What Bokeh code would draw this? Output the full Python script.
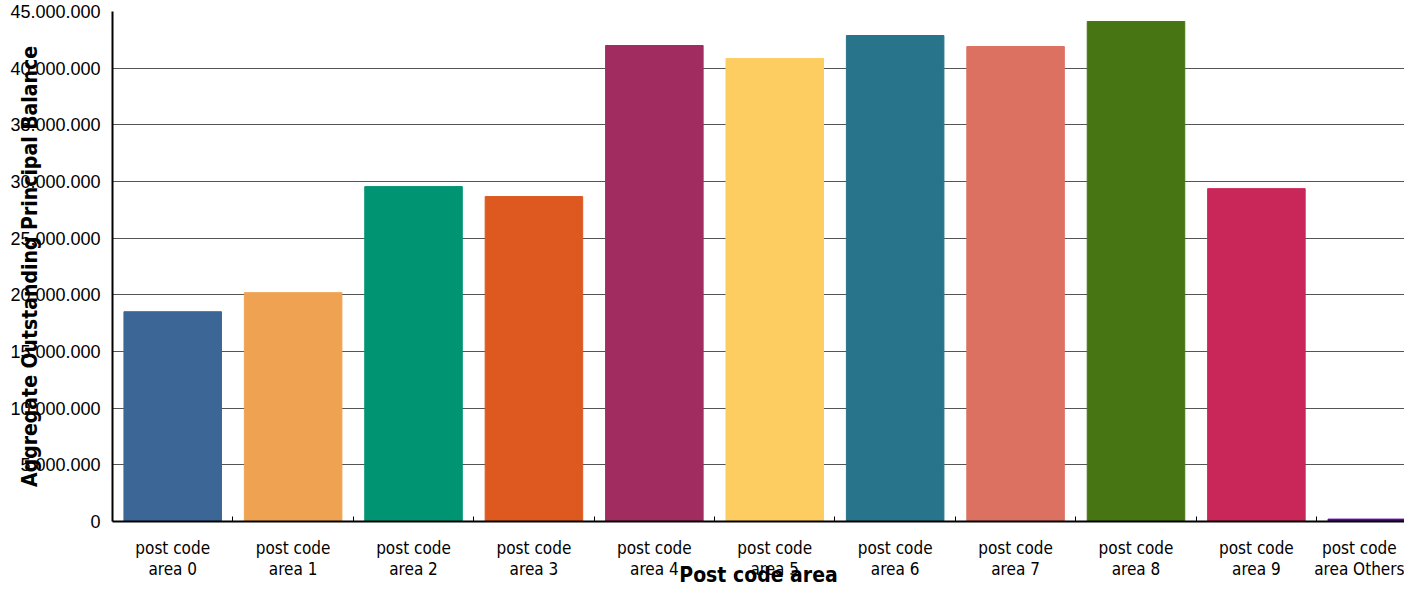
from bokeh.plotting import figure
from bokeh.models import Range1d, FixedTicker, ColumnDataSource
from bokeh.embed import file_html
from bokeh.resources import INLINE

categories = ["post code\narea 0", "post code\narea 1", "post code\narea 2", "post code\narea 3",
              "post code\narea 4", "post code\narea 5", "post code\narea 6", "post code\narea 7",
              "post code\narea 8", "post code\narea 9", "post code\narea Others"]
values = [18510000, 20190000, 29550000, 28670000, 42000000, 40850000,
          42880000, 41910000, 44120000, 29370000, 210000]
colors = ["#3B6696", "#EFA352", "#009473", "#DD5920", "#A12D60", "#FDCD61",
          "#28758B", "#DC7162", "#477513", "#C9275A", "#5B0C9E"]
y_ticks = [0, 5000000, 10000000, 15000000, 20000000, 25000000,
           30000000, 35000000, 40000000, 45000000]

centers = [i + 0.5 for i in range(len(categories))]
bounds = [i for i in range(1, len(categories) + 1)]

src = ColumnDataSource(dict(x=centers, top=values, color=colors))

COND = "Liberation Sans Narrow, DejaVu Sans Condensed, Roboto"

p = figure(width=1404, height=590, output_backend="svg", toolbar_location=None,
           x_range=Range1d(0, 10.73), y_range=Range1d(0, 45000000),
           min_border_left=112, min_border_top=11, min_border_right=0,
           min_border_bottom=69)
p.vbar(x="x", top="top", width=0.81, color="color", source=src)

p.outline_line_color = None
p.background_fill_color = "white"
p.border_fill_color = "white"

# y axis
p.yaxis.ticker = FixedTicker(ticks=y_ticks)
p.yaxis.major_label_overrides = {t: f"{t:,}".replace(",", ".") for t in y_ticks}
p.yaxis.major_label_text_font = "Liberation Sans"
p.yaxis.major_label_text_font_size = "18px"
p.yaxis.major_label_text_color = "black"
p.yaxis.major_label_standoff = 12
p.yaxis.major_tick_out = 0
p.yaxis.major_tick_in = 0
p.yaxis.minor_tick_line_color = None
p.yaxis.axis_line_color = "black"
p.yaxis.axis_line_width = 2
p.yaxis.axis_label = "Aggregate Outstanding Principal Balance"
p.yaxis.axis_label_text_font = COND
p.yaxis.axis_label_text_font_style = "bold"
p.yaxis.axis_label_text_font_size = "21px"
p.yaxis.axis_label_text_color = "black"
p.yaxis.axis_label_standoff = -35

# x axis
p.xaxis.ticker = FixedTicker(ticks=centers, minor_ticks=bounds)
p.xaxis.major_label_overrides = {c: lab for c, lab in zip(centers, categories)}
p.xaxis.major_label_text_font = COND
p.xaxis.major_label_text_font_size = "17px"
p.xaxis.major_label_text_line_height = 1.05
p.xaxis.major_label_text_color = "black"
p.xaxis.major_label_standoff = 16
p.xaxis.major_tick_line_color = None
p.xaxis.major_tick_out = 0
p.xaxis.major_tick_in = 0
p.xaxis.minor_tick_in = 5
p.xaxis.minor_tick_out = 0
p.xaxis.minor_tick_line_color = "black"
p.xaxis.axis_line_color = "black"
p.xaxis.axis_line_width = 2
p.xaxis.axis_label = "Post code area"
p.xaxis.axis_label_text_font = COND
p.xaxis.axis_label_text_font_style = "bold"
p.xaxis.axis_label_text_font_size = "21px"
p.xaxis.axis_label_text_color = "black"
p.xaxis.axis_label_standoff = -19

p.xgrid.grid_line_color = None
p.ygrid.ticker = FixedTicker(ticks=y_ticks)
p.ygrid.grid_line_color = "#555555"
p.ygrid.grid_line_width = 1

open("out.html", "w").write(file_html(p, INLINE))
